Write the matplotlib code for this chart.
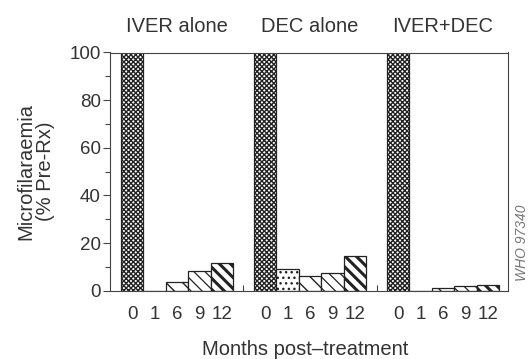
import matplotlib
matplotlib.use('Agg')
import matplotlib.pyplot as plt
import matplotlib.transforms as mtransforms

plt.rcParams['font.family'] = ['Liberation Sans', 'DejaVu Sans']

# values (% of pre-treatment microfilaraemia)
treatments = ['IVER alone', 'DEC alone', 'IVER+DEC']
months = ['0', '1', '6', '9', '12']
iver_alone = [100, 0, 3.5, 8.1, 11.6]
dec_alone = [100, 9.1, 6.1, 7.5, 14.7]
iver_dec = [100, 0, 1.3, 2.1, 2.5]

# one fill pattern per month
hatches = ['xxxxxxx', '...', '\\\\', '\\\\\\', '\\\\\\']
hatch_widths = [1.0, 1.0, 1.0, 0.9, 2.2]

ink = '#333333'
pitch = 5.94  # distance between groups, in bar widths

fig, ax = plt.subplots(figsize=(5.3, 3.59), dpi=100)
fig.subplots_adjust(left=110 / 530, right=508 / 530,
                    top=1 - 52.5 / 359, bottom=1 - 290.7 / 359)

positions = []
for g, vals in enumerate([iver_alone, dec_alone, iver_dec]):
    for i, v in enumerate(vals):
        x = g * pitch + i
        positions.append(x)
        bar = ax.bar(x, v, width=1, facecolor='white', edgecolor='#222222',
                     linewidth=0.9, hatch=hatches[i])[0]
        if hasattr(bar, 'set_hatch_linewidth'):
            bar.set_hatch_linewidth(hatch_widths[i])
    # group title above the axes
    trans = mtransforms.blended_transform_factory(ax.transData, ax.transAxes)
    ax.text(g * pitch + 2, 1.086, treatments[g], transform=trans,
            ha='center', va='baseline', fontsize=14.5, color=ink)

ax.set_xlim(-0.99, 16.78)
ax.set_ylim(0, 100)

ax.set_xticks(positions)
ax.set_xticklabels(months * 3)
ax.set_xticks([4.97, 4.97 + pitch], minor=True)
ax.tick_params(axis='x', which='major', length=0, pad=11, labelsize=13.5,
               labelcolor=ink)
ax.tick_params(axis='x', which='minor', direction='in', length=4,
               color='#444444', width=0.8)

ax.set_yticks(range(0, 101, 20))
ax.set_yticks(range(10, 100, 20), minor=True)
ax.tick_params(axis='y', which='major', length=5, pad=1.5, labelsize=13.5,
               labelcolor=ink, color='#444444', width=0.8)
ax.tick_params(axis='y', which='minor', length=3.5, color='#444444',
               width=0.8)

for s in ax.spines.values():
    s.set_linewidth(0.8)
    s.set_color('#444444')

ax.text(-0.186, 0.5, 'Microfilaraemia\n(% Pre-Rx)', transform=ax.transAxes,
        rotation=90, ha='center', va='center', multialignment='center',
        fontsize=14.5, color=ink, linespacing=1.05)
ax.text(0.49, -0.205, 'Months post\u2013treatment', transform=ax.transAxes,
        ha='center', va='top', fontsize=14.5, color=ink)

fig.text(522 / 530, 1 - 243 / 359, 'WHO 97340', rotation=90, ha='center',
         va='center', fontsize=10, style='italic', color='#777777')

fig.savefig('out.png', dpi=100)
